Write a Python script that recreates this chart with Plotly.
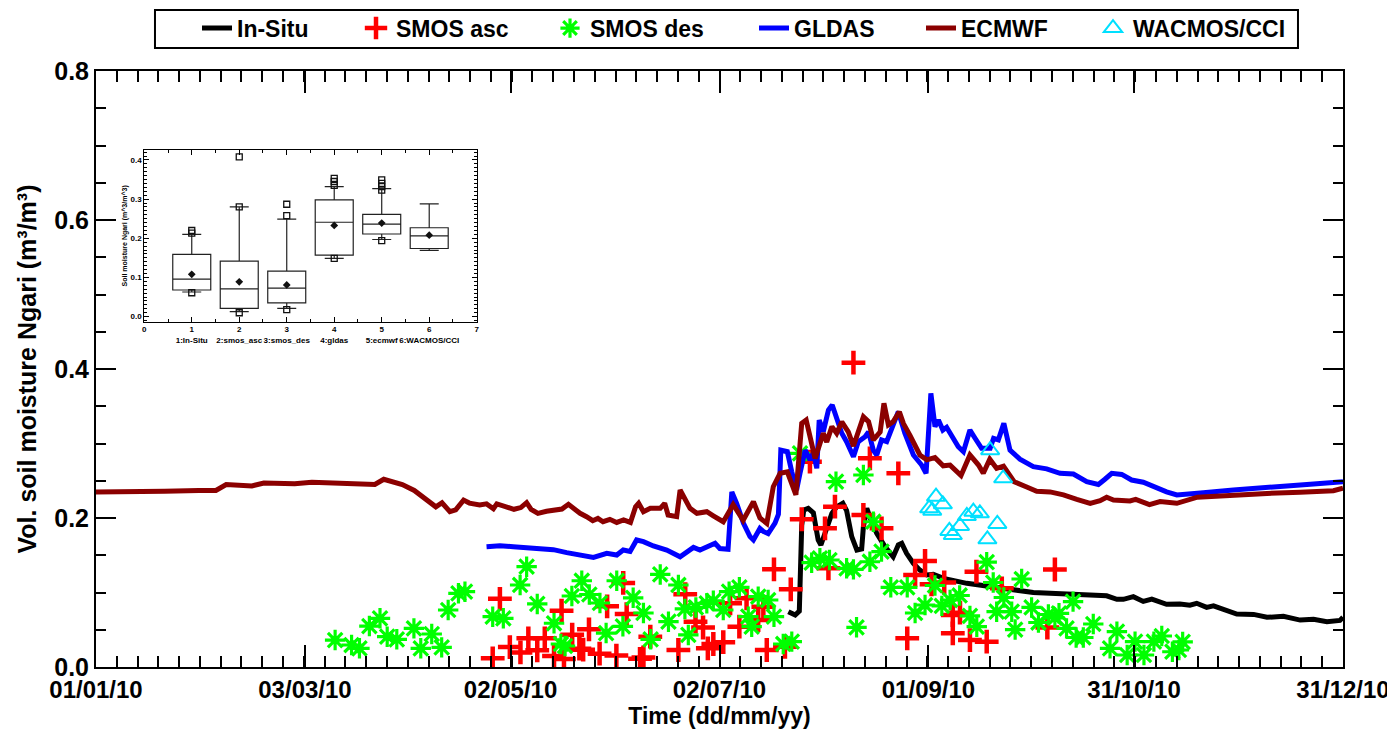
import pandas as pd
import plotly.graph_objects as go

BASE = pd.Timestamp("2010-01-01")

# ---------------- main chart data (days since 01/01/10, vol. soil moisture) ----------------
ecmwf_days = [0, 10, 20, 30, 35, 38, 45.5, 49, 58, 63,
              70, 79, 81.4, 84, 87.7, 89.4, 92.9, 96.3, 99.2, 101,
              103.3, 105, 107.3, 109, 112, 114, 116, 117, 119.5, 122,
              124, 125.7, 127, 129, 131.5, 133.5, 136, 137.9, 139.3, 141.3,
              143.2, 145, 146.5, 148, 150, 152, 154, 156, 157.5, 158.4,
              159.8, 161.8, 164.7, 166, 167, 169.5, 170.5, 171.5, 173.4, 175.4,
              178.3, 180.2, 183.1, 186, 188.9, 191.9, 193.8, 195.8, 197.7, 199.7,
              201.8, 204.3, 206, 207.3, 209.9, 212.3, 213.3, 214.8, 216.2, 217.7,
              219.6, 221.1, 224, 225.5, 226.9, 228.9, 230, 231.3, 232.7, 234.5,
              235.7, 237.6, 240.5, 242.5, 244.9, 247.3, 249.3, 252.5, 255.1, 257.6,
              259, 260.9, 262.9, 264.9, 266.4, 268, 271.5, 274.6, 278.5, 282.4,
              286.3, 290.2, 293.1, 295, 297, 301.8, 303.5, 307.5, 310.6, 315.5,
              321.5, 332, 341.8, 351.5, 361.2, 364]
ecmwf_vals = [0.235, 0.235, 0.236, 0.237, 0.237, 0.245, 0.243, 0.247, 0.246, 0.248,
              0.247, 0.247, 0.245, 0.252, 0.248, 0.245, 0.237, 0.224, 0.215, 0.2205,
              0.2085, 0.211, 0.224, 0.220, 0.2175, 0.219, 0.2125, 0.219, 0.2147, 0.2117,
              0.214, 0.2206, 0.2117, 0.2063, 0.209, 0.210, 0.212, 0.2184, 0.213, 0.2063,
              0.2018, 0.1964, 0.1995, 0.195, 0.1982, 0.194, 0.1973, 0.194, 0.215, 0.2197,
              0.2085, 0.213, 0.213, 0.2197, 0.204, 0.2018, 0.2376, 0.2287, 0.213, 0.2063,
              0.2085, 0.203, 0.195, 0.218, 0.197, 0.222, 0.200, 0.1928, 0.242, 0.26,
              0.262, 0.231, 0.327, 0.3315, 0.28, 0.3137, 0.302, 0.3226, 0.3137, 0.329,
              0.3155, 0.2966, 0.336, 0.3293, 0.3047, 0.3155, 0.354, 0.325, 0.3293, 0.3427,
              0.3267, 0.3107, 0.2846, 0.278, 0.281, 0.270, 0.271, 0.257, 0.2846, 0.2711,
              0.26, 0.279, 0.2666, 0.2695, 0.26, 0.2487, 0.242, 0.236, 0.235, 0.231,
              0.225, 0.2197, 0.2233, 0.2278, 0.224, 0.2228, 0.225, 0.218, 0.222, 0.2197,
              0.228, 0.231, 0.233, 0.2345, 0.2367, 0.240]

gldas_days = [114.0, 117.9, 121.8, 125.7, 129.6, 133.5, 137.4, 141.3, 145.2, 149.1,
              152.0, 153.9, 155.9, 157.8, 159.8, 162.7, 166.6, 170.5, 172.4, 174.4,
              176.3, 178.3, 180.7, 182.1, 184.5, 185.6, 187.0, 189.0, 190.9, 191.9,
              193.8, 194.8, 196.2, 198.2, 199.2, 199.9, 201.8, 203.1, 204.5, 205.5,
              207.0, 208.4, 209.4, 210.4, 211.1, 212.3, 213.8, 214.9, 216.2, 217.7,
              219.1, 221.1, 222.5, 224.5, 225.5, 226.9, 227.9, 229.3, 230.8, 231.7,
              234.2, 236.1, 238.6, 241.0, 242.3, 243.7, 244.9, 245.9, 247.2, 248.3,
              249.8, 251.7, 253.2, 255.1, 256.6, 258.5, 261.0, 262.0, 263.4, 265.0,
              266.8, 269.7, 273.6, 277.5, 281.4, 285.3, 289.2, 292.6, 294.5, 296.5,
              299.4, 302.3, 305.7, 308.6, 312.5, 315.5, 319.3, 323.2, 332.0, 339.8,
              347.6, 355.4, 364.0]
gldas_vals = [0.1615, 0.1628, 0.1615, 0.160, 0.158, 0.1575, 0.1535, 0.1503, 0.1472, 0.1525,
              0.1503, 0.157, 0.155, 0.1705, 0.1683, 0.1624, 0.157, 0.148, 0.1548, 0.1606,
              0.157, 0.1615, 0.166, 0.159, 0.158, 0.235, 0.2197, 0.193, 0.175, 0.1705,
              0.186, 0.182, 0.179, 0.193, 0.205, 0.291, 0.289, 0.262, 0.2376, 0.26,
              0.291, 0.278, 0.287, 0.2667, 0.3315, 0.316, 0.345, 0.3517, 0.3315, 0.3137,
              0.3024, 0.2823, 0.3024, 0.309, 0.3155, 0.291, 0.2845, 0.3047, 0.3024, 0.3137,
              0.3427, 0.3137, 0.2846, 0.2711, 0.26, 0.3674, 0.3226, 0.3315, 0.318, 0.3217,
              0.309, 0.2957, 0.289, 0.318, 0.307, 0.2935, 0.2935, 0.307, 0.305, 0.327,
              0.291, 0.279, 0.2689, 0.266, 0.260, 0.259, 0.2487, 0.245, 0.252, 0.260,
              0.2585, 0.251, 0.248, 0.242, 0.235, 0.2309, 0.2318, 0.234, 0.2376, 0.241,
              0.243, 0.2456, 0.2487]

insitu_days = [202.1, 204.1, 205.3, 206.0, 206.6, 207.9, 209.4, 210.8, 211.6, 212.8,
               214.8, 216.2, 218.0, 219.1, 220.6, 222.1, 223.5, 224.0, 225.0, 226.4,
               227.9, 230.3, 232.7, 234.2, 235.2, 236.6, 238.6, 240.5, 242.5, 244.4,
               247.4, 254.2, 261.0, 266.8, 273.6, 278.5, 283.3, 289.2, 295.0, 298.0,
               299.9, 302.8, 305.7, 308.2, 312.5, 316.4, 319.3, 321.3, 324.2, 326.2,
               329.1, 333.0, 337.9, 341.8, 346.6, 351.5, 355.4, 359.3, 363.1, 364.0]
insitu_vals = [0.0743, 0.0698, 0.075, 0.19, 0.2107, 0.213, 0.207, 0.1705, 0.1638, 0.180,
               0.2063, 0.215, 0.2197, 0.210, 0.175, 0.157, 0.1585, 0.188, 0.213, 0.195,
               0.1794, 0.1615, 0.148, 0.1638, 0.166, 0.1526, 0.139, 0.130, 0.1235, 0.1245,
               0.119, 0.1123, 0.1078, 0.1043, 0.100, 0.0989, 0.0975, 0.096, 0.0955, 0.0908,
               0.0908, 0.0944, 0.088, 0.0912, 0.0841, 0.0845, 0.083, 0.0855, 0.080, 0.082,
               0.0774, 0.0711, 0.0706, 0.0667, 0.068, 0.063, 0.064, 0.0608, 0.0625, 0.0667]

smos_asc_days = [115.8, 117.9, 120.8, 123.9, 126.2, 128.8, 131.0, 133.7, 135.9, 136.6,
                 139.0, 141.1, 142.2, 143.9, 147.0, 149.2, 151.9, 153.9, 154.9, 158.8,
                 159.8, 161.8, 170.0, 172.0, 175.0, 177.2, 178.6, 180.2, 183.1, 185.1,
                 187.8, 189.9, 193.3, 194.8, 195.8, 197.9, 201.1, 202.8, 206.0, 208.4,
                 212.8, 213.8, 215.7, 221.1, 224.0, 225.9, 229.3, 234.2, 236.8, 239.1,
                 242.0, 243.9, 247.6, 250.1, 250.1, 252.2, 255.1, 257.0, 260.0, 264.4,
                 277.7, 279.9]
smos_asc_vals = [0.0117, 0.0915, 0.0268, 0.0195, 0.0385, 0.0224, 0.0385, 0.0148, 0.0756, 0.0107,
                 0.0434, 0.0246, 0.0232, 0.0506, 0.0179, 0.0815, 0.0154, 0.1128, 0.0711, 0.011,
                 0.0128, 0.0407, 0.0228, 0.0977, 0.0608, 0.053, 0.0251, 0.0309, 0.0333, 0.0855,
                 0.0541, 0.0922, 0.0631, 0.0809, 0.0228, 0.1311, 0.0272, 0.1043, 0.1983, 0.2756,
                 0.1862, 0.1325, 0.2152, 0.4085, 0.204, 0.2801, 0.1862, 0.26, 0.0385, 0.1235,
                 0.1423, 0.111, 0.1134, 0.0452, 0.0698, 0.0729, 0.0362, 0.1279, 0.034, 0.1056,
                 0.053, 0.1309]

smos_des_days = [69.8, 74.6, 76.9, 79.8, 82.9, 85.0, 87.8, 92.8, 94.8, 98.0,
                 100.9, 102.8, 105.8, 107.7, 115.8, 118.9, 123.8, 125.7, 128.8, 133.7,
                 135.7, 136.9, 138.9, 141.8, 144.0, 147.1, 148.9, 152.0, 153.8, 156.8,
                 159.8, 161.9, 164.7, 167.1, 170.0, 171.9, 172.9, 175.1, 178.3, 180.2,
                 183.1, 184.8, 187.8, 190.4, 191.4, 193.3, 196.2, 197.9, 200.6, 203.1,
                 205.5, 208.9, 211.3, 214.1, 216.0, 219.1, 221.1, 222.0, 224.0, 225.9,
                 226.9, 229.3, 232.0, 236.8, 239.1, 242.0, 244.9, 246.9, 249.3, 252.1,
                 255.1, 257.1, 260.0, 261.9, 262.9, 265.0, 267.3, 268.3, 270.2, 273.1,
                 275.1, 278.0, 279.9, 281.1, 283.3, 285.2, 286.1, 288.2, 291.1, 296.0,
                 298.0, 301.0, 303.3, 305.9, 308.8, 311.1, 314.2, 316.1, 317.2]
smos_des_vals = [0.0362, 0.0295, 0.0251, 0.055, 0.0654, 0.0407, 0.0372, 0.0519, 0.0251, 0.0443,
                 0.0264, 0.0765, 0.0989, 0.1011, 0.0675, 0.0654, 0.1101, 0.1346, 0.0846, 0.0587,
                 0.0309, 0.0282, 0.0953, 0.1158, 0.0973, 0.0859, 0.0456, 0.1158, 0.0546, 0.0929,
                 0.0725, 0.0372, 0.1242, 0.0608, 0.1101, 0.0779, 0.043, 0.0799, 0.0855, 0.0889,
                 0.0765, 0.1011, 0.107, 0.0675, 0.0541, 0.0944, 0.0899, 0.0675, 0.0309, 0.034,
                 0.2868, 0.14, 0.1459, 0.1436, 0.2487, 0.1325, 0.1311, 0.0533, 0.2577, 0.1413,
                 0.195, 0.1548, 0.107, 0.107, 0.0725, 0.0832, 0.1094, 0.0821, 0.0899, 0.096,
                 0.0685, 0.0541, 0.1407, 0.1134, 0.0742, 0.0933, 0.0742, 0.0503, 0.1181, 0.0799,
                 0.0597, 0.0705, 0.0658, 0.0721, 0.0519, 0.0877, 0.0396, 0.0396, 0.0577, 0.0251,
                 0.0474, 0.0161, 0.034, 0.0161, 0.034, 0.0416, 0.0205, 0.0228, 0.0336]

wacmos_days = [243.2, 244.1, 245.2, 247.2, 249.1, 250.1, 252.2, 254.2, 256.1, 258.0,
               260.2, 261.0, 263.1, 264.8]
wacmos_vals = [0.213, 0.2098, 0.2286, 0.2184, 0.1826, 0.1772, 0.1893, 0.2027, 0.2085, 0.2063,
               0.1714, 0.291, 0.192, 0.2533]

x_tick_days = [0, 61, 121, 182, 243, 303, 364]
x_tick_text = ["01/01/10", "03/03/10", "02/05/10", "02/07/10", "01/09/10", "31/10/10", "31/12/10"]
y_tick_vals = [0.0, 0.2, 0.4, 0.6, 0.8]
y_tick_text = ["0.0", "0.2", "0.4", "0.6", "0.8"]

# ---------------- inset box-plot statistics ----------------
box_pos = [1, 2, 3, 4, 5, 6]
box_labels = ["1:In-Situ", "2:smos_asc", "3:smos_des", "4:gldas", "5:ecmwf", "6:WACMOS/CCI"]
box_q1 = [0.068, 0.021, 0.035, 0.157, 0.211, 0.174]
box_median = [0.096, 0.071, 0.073, 0.241, 0.236, 0.206]
box_q3 = [0.159, 0.142, 0.116, 0.298, 0.261, 0.227]
box_low = [0.063, 0.013, 0.021, 0.149, 0.197, 0.169]
box_high = [0.210, 0.280, 0.249, 0.332, 0.327, 0.288]
box_mean = [0.108, 0.089, 0.081, 0.233, 0.239, 0.208]
extreme_pos = [1, 1, 1, 2, 2, 2, 3, 3, 3, 4, 4, 4, 4, 5, 5, 5, 5, 5]
extreme_vals = [0.220, 0.213, 0.061, 0.408, 0.280, 0.010, 0.287, 0.258, 0.018,
                0.353, 0.345, 0.335, 0.149, 0.349, 0.340, 0.332, 0.323, 0.194]

for a, b in [(ecmwf_days, ecmwf_vals), (gldas_days, gldas_vals), (insitu_days, insitu_vals),
             (smos_asc_days, smos_asc_vals), (smos_des_days, smos_des_vals),
             (wacmos_days, wacmos_vals), (extreme_pos, extreme_vals)]:
    assert len(a) == len(b), (len(a), len(b))


def to_dates(days):
    return [BASE + pd.Timedelta(days=float(d)) for d in days]


FONT = "Arial, Liberation Sans, sans-serif"
RED = "#FF0000"
GREEN = "#00FF00"
BLUE = "#0000FF"
DARKRED = "#8B0000"
CYAN = "#00E0FF"

fig = go.Figure()

fig.add_trace(go.Scatter(x=to_dates(insitu_days), y=insitu_vals, mode="lines", name="In-Situ",
                         line=dict(color="black", width=5), legendwidth=114))
fig.add_trace(go.Scatter(x=to_dates(smos_asc_days), y=smos_asc_vals, mode="markers", name="SMOS asc",
                         marker=dict(symbol="cross-thin", size=17, color=RED,
                                     line=dict(color=RED, width=4.5)), legendwidth=149))
fig.add_trace(go.Scatter(x=to_dates(smos_des_days), y=smos_des_vals, mode="markers", name="SMOS des",
                         marker=dict(symbol="asterisk-open", size=17, color=GREEN,
                                     line=dict(color=GREEN, width=3.2)), legendwidth=159))
fig.add_trace(go.Scatter(x=to_dates(gldas_days), y=gldas_vals, mode="lines", name="GLDAS",
                         line=dict(color=BLUE, width=5), legendwidth=122))
fig.add_trace(go.Scatter(x=to_dates(ecmwf_days), y=ecmwf_vals, mode="lines", name="ECMWF",
                         line=dict(color=DARKRED, width=5), legendwidth=127))
fig.add_trace(go.Scatter(x=to_dates(wacmos_days), y=wacmos_vals, mode="markers", name="WACMOS/CCI",
                         marker=dict(symbol="triangle-up-open", size=16, color=CYAN,
                                     line=dict(color=CYAN, width=2)), legendwidth=160))

# ---------------- inset ----------------
fig.add_trace(go.Box(x=box_pos, q1=box_q1, median=box_median, q3=box_q3,
                     lowerfence=box_low, upperfence=box_high, width=0.8, whiskerwidth=0.5,
                     boxpoints=False, line=dict(color="#222222", width=1.2),
                     fillcolor="rgba(0,0,0,0)", showlegend=False, xaxis="x2", yaxis="y2"))
fig.add_trace(go.Scatter(x=box_pos, y=box_mean, mode="markers", showlegend=False,
                         marker=dict(symbol="diamond", size=6, color="#111111"),
                         xaxis="x2", yaxis="y2"))
fig.add_trace(go.Scatter(x=extreme_pos, y=extreme_vals, mode="markers", showlegend=False,
                         marker=dict(symbol="square-open", size=6, color="#111111",
                                     line=dict(width=1.3, color="#111111")),
                         xaxis="x2", yaxis="y2"))

minor_x = [BASE + pd.Timedelta(days=i * 364 / 60) for i in range(61)]

fig.update_layout(
    width=1387, height=722,
    margin=dict(l=88, r=52, t=63, b=63, autoexpand=False),
    paper_bgcolor="white", plot_bgcolor="white",
    font=dict(family=FONT, size=20, color="black", weight="bold"),
    showlegend=True,
    legend=dict(orientation="h", x=0.081, xanchor="left", y=1.072, yanchor="middle",
                font=dict(size=23, family=FONT, weight="bold"), bgcolor="rgba(0,0,0,0)",
                borderwidth=0, itemwidth=30, tracegroupgap=0),
    xaxis=dict(
        type="date", range=[BASE, BASE + pd.Timedelta(days=364)],
        tickmode="array", tickvals=to_dates(x_tick_days), ticktext=x_tick_text,
        ticks="inside", ticklen=22, tickwidth=2, tickcolor="black",
        showline=True, linecolor="black", linewidth=2, mirror="allticks",
        showgrid=False, zeroline=False, tickangle=0,
        tickfont=dict(size=24, family=FONT, weight="bold"),
        minor=dict(tickmode="array", tickvals=minor_x, ticks="inside", ticklen=11,
                   tickwidth=2, tickcolor="black", showgrid=False),
        title=dict(text="Time (dd/mm/yy)", font=dict(size=23, family=FONT, weight="bold"), standoff=4),
    ),
    yaxis=dict(
        range=[0, 0.8], tickmode="array", tickvals=y_tick_vals, ticktext=y_tick_text,
        ticks="inside", ticklen=20, tickwidth=2, tickcolor="black",
        showline=True, linecolor="black", linewidth=2, mirror="allticks",
        showgrid=False, zeroline=False,
        tickfont=dict(size=25, family=FONT, weight="bold"),
        minor=dict(dtick=0.05, ticks="inside", ticklen=10, tickwidth=2, tickcolor="black",
                   showgrid=False),
        title=dict(text="Vol. soil moisture Ngari (m³/m³)", font=dict(size=25, family=FONT, weight="bold"),
                   standoff=10),
    ),
    xaxis2=dict(
        domain=[0.0387, 0.3053], anchor="y2", range=[0, 7],
        tickmode="array", tickvals=[0, 1, 2, 3, 4, 5, 6, 7],
        ticktext=["0"] + [f"{p}<br>{lab}" for p, lab in zip(box_pos, box_labels)] + ["7"],
        ticks="inside", ticklen=5, tickwidth=1, tickcolor="black", tickangle=0,
        showline=True, linecolor="black", linewidth=1, mirror="allticks",
        showgrid=False, zeroline=False, tickfont=dict(size=8, family=FONT, weight="bold"),
        minor=dict(dtick=0.5, ticks="inside", ticklen=3, tickwidth=1, tickcolor="black", showgrid=False),
    ),
    yaxis2=dict(
        domain=[0.5794, 0.8675], anchor="x2", range=[-0.0128, 0.4255],
        tickmode="array", tickvals=[0, 0.1, 0.2, 0.3, 0.4],
        ticktext=["0.0", "0.1", "0.2", "0.3", "0.4"],
        ticks="inside", ticklen=5, tickwidth=1, tickcolor="black",
        showline=True, linecolor="black", linewidth=1, mirror="allticks",
        showgrid=False, zeroline=False, tickfont=dict(size=8, family=FONT, weight="bold"),
        minor=dict(dtick=0.01, ticks="inside", ticklen=3, tickwidth=1, tickcolor="black", showgrid=False),
        title=dict(text="Soil moisture Ngari (m^3/m^3)", font=dict(size=7, family=FONT, weight="bold"),
                   standoff=2),
    ),
    shapes=[dict(type="rect", xref="paper", yref="paper", x0=0.0473, x1=0.9639, y0=1.0386, y1=1.1023,
                 line=dict(color="black", width=2), fillcolor="rgba(0,0,0,0)")],
)

fig.write_html("out.html")
